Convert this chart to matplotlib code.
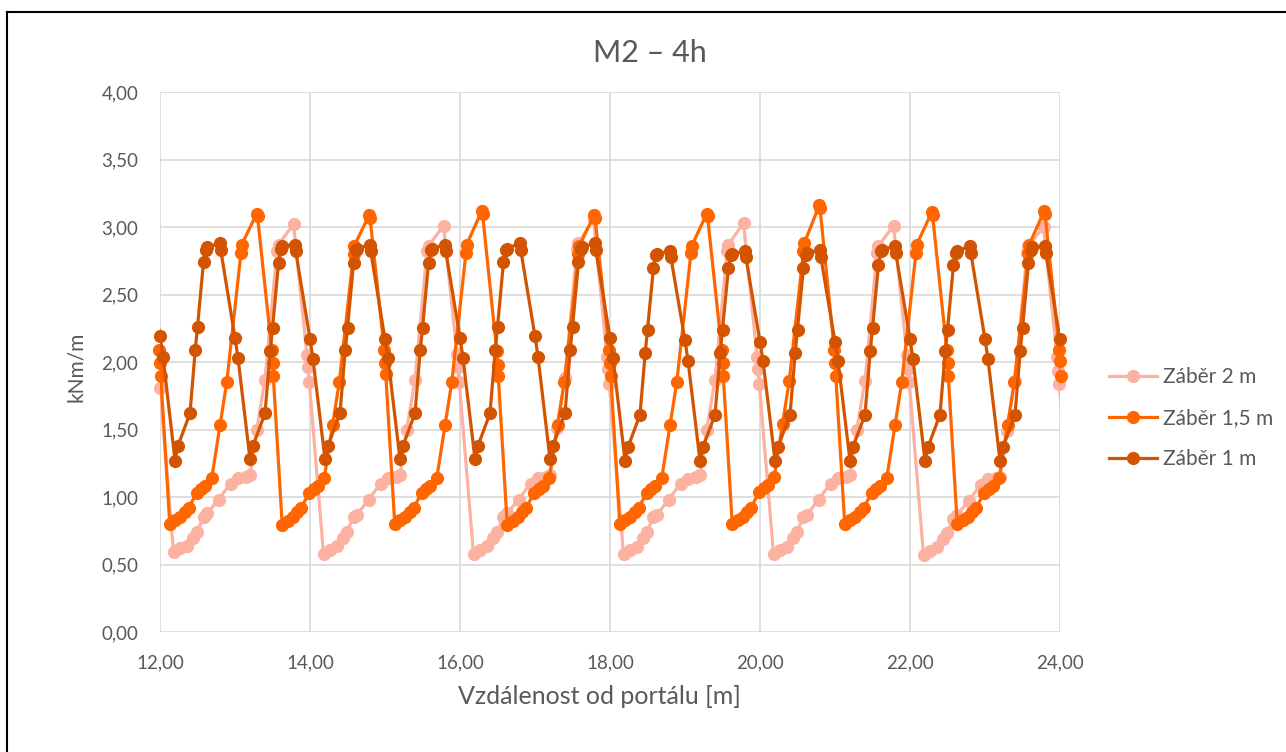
import matplotlib
matplotlib.use("Agg")
import matplotlib.pyplot as plt
from matplotlib.lines import Line2D
from matplotlib.ticker import FuncFormatter

plt.rcParams['font.family'] = ['Lato', 'DejaVu Sans']

# ---------------- data ----------------
series_names = ["Záběr 2 m", "Záběr 1,5 m", "Záběr 1 m"]

# Záběr 2 m
x_2m = [
    11.96, 11.97, 12.00, 12.18, 12.27, 12.36, 12.44, 12.49, 12.58, 12.63, 12.78, 12.94, 13.04, 13.14, 13.20, 13.29, 13.40, 13.56, 13.58, 13.78,
    13.96, 13.97, 13.99, 14.18, 14.27, 14.36, 14.44, 14.49, 14.58, 14.63, 14.78, 14.94, 15.04, 15.14, 15.20, 15.29, 15.40, 15.56, 15.58, 15.78,
    15.96, 15.97, 15.99, 16.18, 16.27, 16.36, 16.44, 16.49, 16.58, 16.63, 16.78, 16.94, 17.04, 17.14, 17.20, 17.29, 17.40, 17.56, 17.58, 17.78,
    17.96, 17.97, 17.99, 18.18, 18.27, 18.36, 18.44, 18.49, 18.58, 18.63, 18.78, 18.94, 19.04, 19.14, 19.20, 19.29, 19.40, 19.56, 19.58, 19.78,
    19.96, 19.97, 19.99, 20.18, 20.27, 20.36, 20.44, 20.49, 20.58, 20.63, 20.78, 20.94, 21.04, 21.14, 21.20, 21.29, 21.40, 21.56, 21.58, 21.78,
    21.96, 21.97, 21.99, 22.18, 22.27, 22.36, 22.44, 22.49, 22.58, 22.63, 22.78, 22.94, 23.04, 23.14, 23.20, 23.29, 23.40, 23.56, 23.58, 23.78,
    23.96, 23.97, 23.99, 24.18,
]
y_2m = [
    2.05, 1.96, 1.81, 0.59, 0.62, 0.64, 0.70, 0.74, 0.85, 0.88, 0.98, 1.10, 1.14, 1.15, 1.16, 1.50, 1.87, 2.82, 2.87, 3.02,
    2.05, 1.96, 1.85, 0.58, 0.61, 0.64, 0.70, 0.74, 0.85, 0.87, 0.98, 1.10, 1.14, 1.15, 1.16, 1.50, 1.87, 2.82, 2.86, 3.01,
    2.06, 1.96, 1.85, 0.58, 0.61, 0.64, 0.70, 0.74, 0.85, 0.88, 0.98, 1.10, 1.14, 1.15, 1.16, 1.51, 1.88, 2.84, 2.88, 3.06,
    2.04, 1.95, 1.84, 0.58, 0.61, 0.63, 0.70, 0.74, 0.85, 0.87, 0.98, 1.10, 1.13, 1.15, 1.16, 1.50, 1.87, 2.82, 2.87, 3.03,
    2.04, 1.95, 1.84, 0.58, 0.61, 0.63, 0.70, 0.74, 0.85, 0.87, 0.98, 1.10, 1.14, 1.15, 1.16, 1.50, 1.86, 2.81, 2.86, 3.01,
    2.05, 1.95, 1.85, 0.57, 0.60, 0.63, 0.69, 0.73, 0.84, 0.87, 0.97, 1.09, 1.13, 1.14, 1.15, 1.49, 1.86, 2.81, 2.86, 3.00,
    2.04, 1.93, 1.84, 0.58,
]

# Záběr 1,5 m
x_15m = [
    11.80, 11.99, 12.00, 12.01, 12.13, 12.20, 12.27, 12.33, 12.38, 12.49, 12.55, 12.60, 12.69, 12.80, 12.89, 13.08, 13.09, 13.29, 13.30,
    13.49, 13.50, 13.51, 13.63, 13.70, 13.77, 13.83, 13.88, 13.99, 14.05, 14.10, 14.19, 14.30, 14.39, 14.58, 14.59, 14.79, 14.80,
    14.99, 15.00, 15.01, 15.13, 15.20, 15.27, 15.33, 15.38, 15.49, 15.55, 15.60, 15.69, 15.80, 15.89, 16.08, 16.09, 16.29, 16.30,
    16.49, 16.50, 16.51, 16.63, 16.70, 16.77, 16.83, 16.88, 16.99, 17.05, 17.10, 17.19, 17.30, 17.39, 17.58, 17.59, 17.79, 17.80,
    17.99, 18.00, 18.01, 18.13, 18.20, 18.27, 18.33, 18.38, 18.49, 18.55, 18.60, 18.69, 18.80, 18.89, 19.08, 19.09, 19.29, 19.30,
    19.49, 19.50, 19.51, 19.63, 19.70, 19.77, 19.83, 19.88, 19.99, 20.05, 20.10, 20.19, 20.30, 20.39, 20.58, 20.59, 20.79, 20.80,
    20.99, 21.00, 21.01, 21.13, 21.20, 21.27, 21.33, 21.38, 21.49, 21.55, 21.60, 21.69, 21.80, 21.89, 22.08, 22.09, 22.29, 22.30,
    22.49, 22.50, 22.51, 22.63, 22.70, 22.77, 22.83, 22.88, 22.99, 23.05, 23.10, 23.19, 23.30, 23.39, 23.58, 23.59, 23.79, 23.80,
    23.99, 24.00, 24.01, 24.13,
]
y_15m = [
    3.08, 2.09, 1.99, 1.90, 0.80, 0.83, 0.85, 0.89, 0.92, 1.03, 1.06, 1.08, 1.14, 1.53, 1.85, 2.81, 2.87, 3.10, 3.08,
    2.09, 1.99, 1.90, 0.79, 0.82, 0.85, 0.89, 0.92, 1.03, 1.06, 1.08, 1.14, 1.53, 1.85, 2.80, 2.86, 3.09, 3.07,
    2.09, 1.99, 1.91, 0.80, 0.83, 0.85, 0.89, 0.92, 1.03, 1.06, 1.08, 1.14, 1.53, 1.85, 2.81, 2.87, 3.12, 3.10,
    2.08, 1.98, 1.90, 0.79, 0.82, 0.85, 0.89, 0.92, 1.03, 1.06, 1.08, 1.14, 1.53, 1.85, 2.80, 2.86, 3.09, 3.07,
    2.09, 1.99, 1.90, 0.80, 0.83, 0.85, 0.89, 0.92, 1.03, 1.06, 1.08, 1.14, 1.53, 1.85, 2.81, 2.86, 3.10, 3.08,
    2.09, 1.99, 1.90, 0.80, 0.83, 0.85, 0.89, 0.92, 1.04, 1.07, 1.09, 1.15, 1.54, 1.86, 2.82, 2.88, 3.16, 3.14,
    2.09, 1.99, 1.90, 0.80, 0.83, 0.85, 0.89, 0.92, 1.03, 1.06, 1.08, 1.14, 1.53, 1.85, 2.81, 2.87, 3.11, 3.09,
    2.09, 1.99, 1.90, 0.80, 0.83, 0.85, 0.89, 0.92, 1.03, 1.06, 1.08, 1.14, 1.53, 1.85, 2.81, 2.87, 3.12, 3.10,
    2.09, 2.01, 1.90, 0.80,
]

# Záběr 1 m
x_1m = [
    11.81,
    12.00, 12.04, 12.20, 12.24, 12.40, 12.47, 12.50, 12.58, 12.61, 12.63, 12.80, 12.81,
    13.00, 13.04, 13.20, 13.24, 13.40, 13.47, 13.50, 13.58, 13.61, 13.63, 13.80, 13.81,
    14.00, 14.04, 14.20, 14.24, 14.40, 14.47, 14.50, 14.58, 14.61, 14.63, 14.80, 14.81,
    15.00, 15.04, 15.20, 15.24, 15.40, 15.47, 15.50, 15.58, 15.61, 15.63, 15.80, 15.81,
    16.00, 16.04, 16.20, 16.24, 16.40, 16.47, 16.50, 16.58, 16.61, 16.63, 16.80, 16.81,
    17.00, 17.04, 17.20, 17.24, 17.40, 17.47, 17.50, 17.58, 17.61, 17.63, 17.80, 17.81,
    18.00, 18.04, 18.20, 18.24, 18.40, 18.47, 18.50, 18.58, 18.61, 18.63, 18.80, 18.81,
    19.00, 19.04, 19.20, 19.24, 19.40, 19.47, 19.50, 19.58, 19.61, 19.63, 19.80, 19.81,
    20.00, 20.04, 20.20, 20.24, 20.40, 20.47, 20.50, 20.58, 20.61, 20.63, 20.80, 20.81,
    21.00, 21.04, 21.20, 21.24, 21.40, 21.47, 21.50, 21.58, 21.61, 21.63, 21.80, 21.81,
    22.00, 22.04, 22.20, 22.24, 22.40, 22.47, 22.50, 22.58, 22.61, 22.63, 22.80, 22.81,
    23.00, 23.04, 23.20, 23.24, 23.40, 23.47, 23.50, 23.58, 23.61, 23.63, 23.80, 23.81,
    24.00, 24.04, 24.20,
]
y_1m = [
    2.83,
    2.19, 2.04, 1.27, 1.38, 1.62, 2.09, 2.26, 2.74, 2.83, 2.85, 2.88, 2.83,
    2.18, 2.03, 1.28, 1.38, 1.62, 2.08, 2.25, 2.73, 2.84, 2.86, 2.87, 2.82,
    2.17, 2.02, 1.28, 1.38, 1.62, 2.09, 2.25, 2.73, 2.83, 2.84, 2.87, 2.82,
    2.17, 2.03, 1.28, 1.38, 1.62, 2.09, 2.25, 2.73, 2.83, 2.84, 2.87, 2.82,
    2.18, 2.03, 1.28, 1.38, 1.62, 2.09, 2.26, 2.74, 2.83, 2.84, 2.88, 2.83,
    2.19, 2.04, 1.28, 1.38, 1.62, 2.09, 2.26, 2.74, 2.84, 2.85, 2.88, 2.83,
    2.18, 2.03, 1.27, 1.37, 1.61, 2.07, 2.24, 2.70, 2.79, 2.80, 2.82, 2.78,
    2.16, 2.01, 1.27, 1.37, 1.61, 2.07, 2.24, 2.70, 2.79, 2.80, 2.82, 2.78,
    2.15, 2.01, 1.27, 1.37, 1.61, 2.07, 2.24, 2.70, 2.79, 2.81, 2.83, 2.78,
    2.15, 2.01, 1.27, 1.37, 1.61, 2.08, 2.25, 2.72, 2.82, 2.83, 2.86, 2.81,
    2.17, 2.02, 1.27, 1.37, 1.61, 2.08, 2.24, 2.72, 2.81, 2.82, 2.86, 2.81,
    2.17, 2.02, 1.27, 1.37, 1.61, 2.08, 2.25, 2.73, 2.83, 2.85, 2.86, 2.81,
    2.17, 2.02, 1.27,
]

x_ticks = [12, 14, 16, 18, 20, 22, 24]
y_ticks = [0.0, 0.5, 1.0, 1.5, 2.0, 2.5, 3.0, 3.5, 4.0]
colors = ["#FCB1A1", "#FF6600", "#D35400"]

# ---------------- figure ----------------
W, H = 1286, 752
fig = plt.figure(figsize=(W / 100, H / 100), dpi=100)
fig.patch.set_facecolor("white")

ax = fig.add_axes([160 / W, 1 - 632 / H, 900 / W, 540 / H])
ax.set_xlim(12, 24)
ax.set_ylim(0, 4)
ax.set_xticks(x_ticks)
ax.set_yticks(y_ticks)
fmt = FuncFormatter(lambda v, p: f"{v:.2f}".replace(".", ","))
ax.xaxis.set_major_formatter(fmt)
ax.yaxis.set_major_formatter(fmt)
ax.grid(True, color="#D9D9D9", linewidth=1.2, zorder=0)
ax.set_axisbelow(True)
for s in ax.spines.values():
    s.set_visible(False)
ax.tick_params(axis="y", length=0, labelsize=13.5, labelcolor="#595959", pad=15.5)
ax.tick_params(axis="x", length=0, labelsize=13.5, labelcolor="#595959", pad=16)

text_col = "#595959"
lw = 2.3
ms = 9.5
data = [(x_2m, y_2m), (x_15m, y_15m), (x_1m, y_1m)]
handles = []
for i, ((xs, ys), c, name) in enumerate(zip(data, colors, series_names)):
    z = 3 + i
    # connecting line clipped to the plot area
    ax.plot(xs, ys, color=c, lw=lw, solid_joinstyle="round", zorder=z)
    # markers for the points inside the x range
    mx = [x for x in xs if 11.985 <= x <= 24.015]
    my = [y for x, y in zip(xs, ys) if 11.985 <= x <= 24.015]
    ax.plot(mx, my, linestyle="none", marker="o", ms=ms, color=c,
            markeredgewidth=0, zorder=z, clip_on=False)
    handles.append(Line2D([], [], color=c, lw=lw, marker="o", ms=ms,
                          markeredgewidth=0))

leg = fig.legend(handles, series_names, loc="center left",
                 bbox_to_anchor=(1099 / W, 1 - 418 / H), frameon=False,
                 fontsize=15, labelcolor=text_col, handlelength=2.3,
                 handletextpad=0.25, labelspacing=1.0, borderpad=0)

fig.text(0.5055, 1 - 53 / H, "M2 – 4h", ha="center", va="center",
         fontsize=22, color=text_col)
fig.text(76 / W, 1 - 367 / H, "kNm/m", ha="center", va="center",
         rotation=90, fontsize=15, color=text_col)
fig.text(599 / W, 1 - 697 / H, "Vzdálenost od portálu [m]", ha="center",
         va="center", fontsize=18, color=text_col)

# chart border (top and left edges lie inside the image)
fig.add_artist(Line2D([7 / W, 7 / W], [0, 1 - 12 / H], color="black",
                      lw=1.5, transform=fig.transFigure))
fig.add_artist(Line2D([7 / W, 1], [1 - 12 / H, 1 - 12 / H], color="black",
                      lw=1.5, transform=fig.transFigure))

fig.savefig("out.png", dpi=100, facecolor="white")
